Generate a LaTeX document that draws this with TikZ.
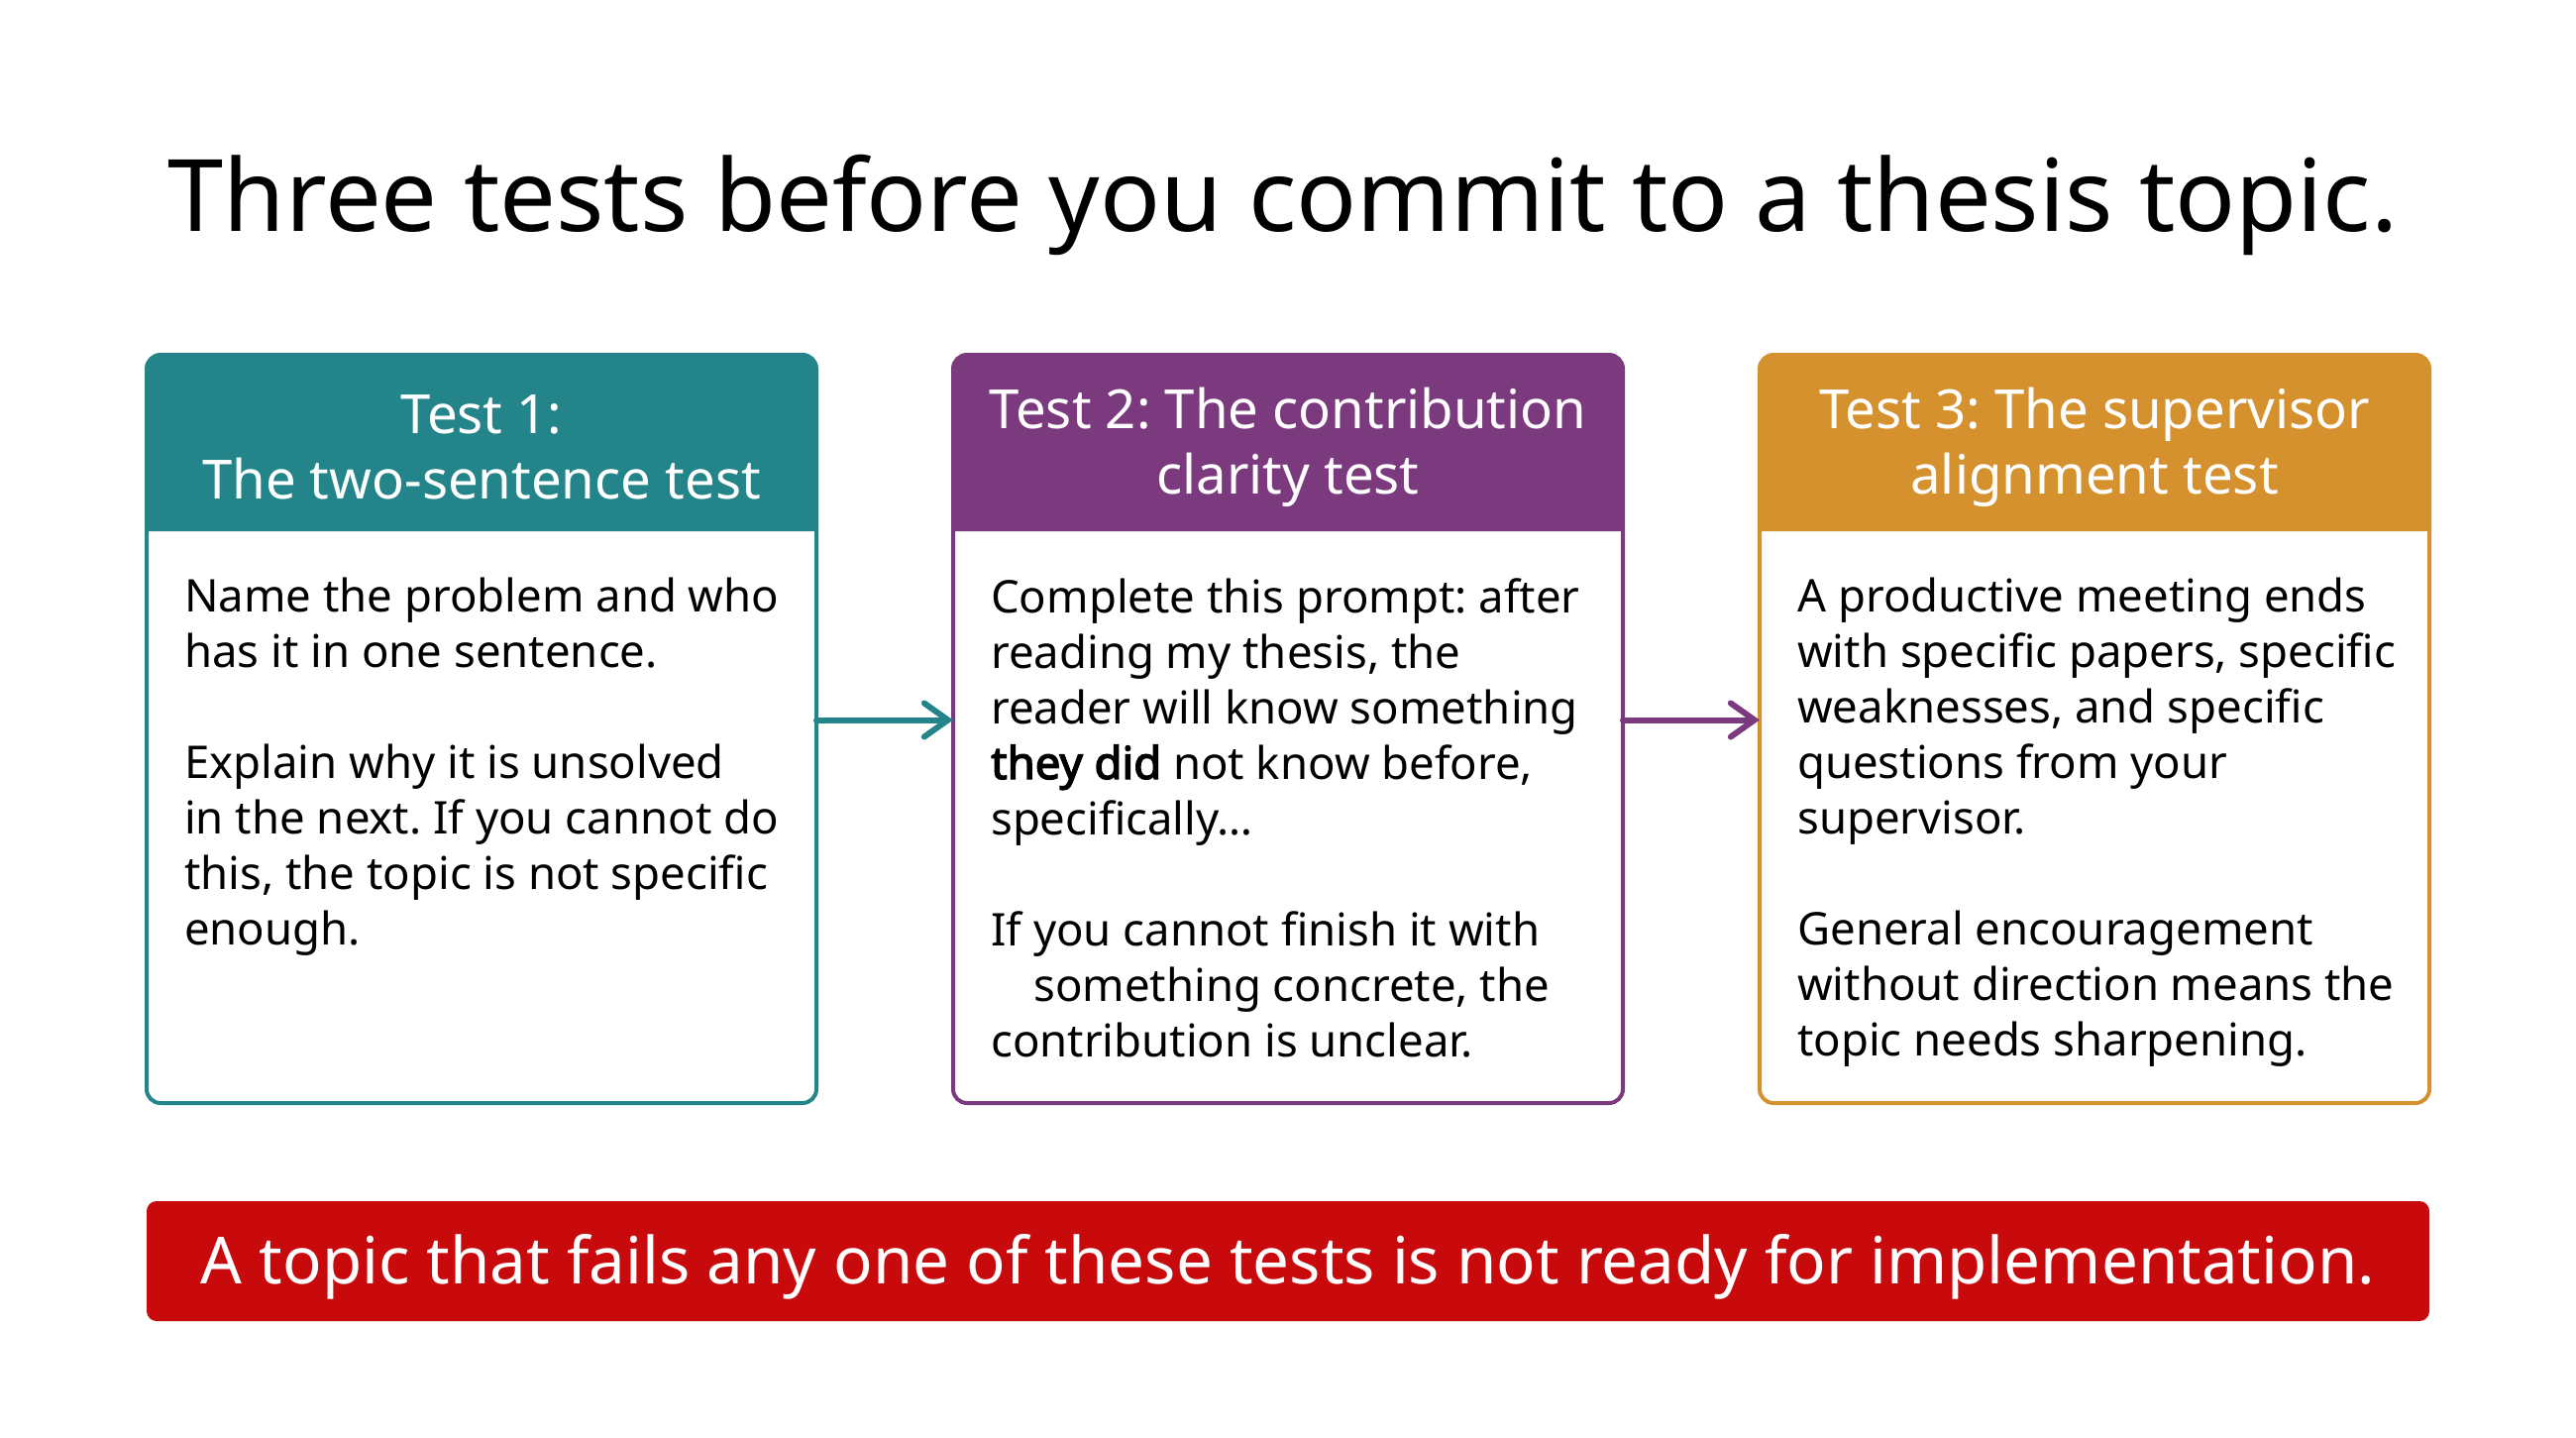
\documentclass[tikz,border=0pt]{standalone}
\usepackage{fontspec}
\setmainfont{Noto Sans}
\newfontfamily\heavyfont{Noto Sans}[FakeBold=3]
\usetikzlibrary{arrows.meta, positioning}
\definecolor{testteal}{RGB}{35, 133, 138}
\definecolor{testpurple}{RGB}{123, 58, 126}
\definecolor{testorange}{RGB}{212, 145, 46}
\definecolor{warnred}{RGB}{200, 10, 12}
\frenchspacing

\begin{document}
\begin{tikzpicture}[x=1pt, y=-1pt,
  card/.style={draw=#1, fill=white, line width=4pt, rounded corners=14pt, minimum width=676pt, minimum height=755pt, inner sep=0pt, outer sep=0pt},
  hdrtext/.style={text=white, align=center, font=\fontsize{54.5}{66}\selectfont},
  bodytext/.style={anchor=north west, align=left, inner sep=0pt, font=\fontsize{45.5}{56}\selectfont},
  flow/.style={draw=#1, line width=6pt, line cap=round, -{Straight Barb[length=24pt, width=34pt, line cap=round]}}
]
  \useasboundingbox (0,0) rectangle (2600,1451);

  \node[font=\fontsize{101}{120}\selectfont] (title) at (1295, 207) {Three tests before you commit to a thesis topic.};

  % the three test cards
  \node[card=testteal] (card1) at (486, 735.5) {};
  \node[card=testpurple] (card2) at (1300, 735.5) {};
  \node[card=testorange] (card3) at (2114, 735.5) {};

  \fill[testteal] ([yshift=-178pt]card1.north west) [rounded corners=14pt] -- (card1.north west) -- (card1.north east) [sharp corners] -- ([yshift=-178pt]card1.north east) -- cycle;
  \fill[testpurple] ([yshift=-178pt]card2.north west) [rounded corners=14pt] -- (card2.north west) -- (card2.north east) [sharp corners] -- ([yshift=-178pt]card2.north east) -- cycle;
  \fill[testorange] ([yshift=-178pt]card3.north west) [rounded corners=14pt] -- (card3.north west) -- (card3.north east) [sharp corners] -- ([yshift=-178pt]card3.north east) -- cycle;

  \node[hdrtext] (head1) at ([yshift=-93pt]card1.north) {Test 1:\\The two-sentence test};
  \node[hdrtext] (head2) at ([yshift=-93pt]card2.north) {Test 2: The contribution\\clarity test};
  \node[hdrtext] (head3) at ([yshift=-93pt]card3.north) {Test 3: The supervisor\\alignment test};

  \node[bodytext] (body1) at ([xshift=38pt, yshift=-225pt]card1.north west) {Name the problem and who\\has it in one sentence.\\[56pt]Explain why it is unsolved\\in the next. If you cannot do\\this, the topic is not specific\\enough.};
  \node[bodytext] (body2) at ([xshift=38pt, yshift=-225pt]card2.north west) {Complete this prompt: after\\reading my thesis, the\\reader will know something\\{\heavyfont they did} not know before,\\specifically\ldots\\[56pt]If you cannot finish it with\\\hspace*{43pt}something concrete, the\\contribution is unclear.};
  \node[bodytext] (body3) at ([xshift=38pt, yshift=-225pt]card3.north west) {A productive meeting ends\\with specific papers, specific\\weaknesses, and specific\\questions from your\\supervisor.\\[56pt]General encouragement\\without direction means the\\topic needs sharpening.};

  \draw[flow=testteal] ([yshift=9pt]card1.east) -- ([yshift=9pt]card2.west);
  \draw[flow=testpurple] ([yshift=9pt]card2.east) -- ([yshift=9pt]card3.west);

  \node[fill=warnred, rounded corners=10pt, minimum width=2304pt, minimum height=121pt, text height=62pt, text depth=16pt, text=white, font=\fontsize{65.5}{78}\selectfont] (verdict) at (1300, 1272.5) {A topic that fails any one of these tests is not ready for implementation.};
\end{tikzpicture}
\end{document}
